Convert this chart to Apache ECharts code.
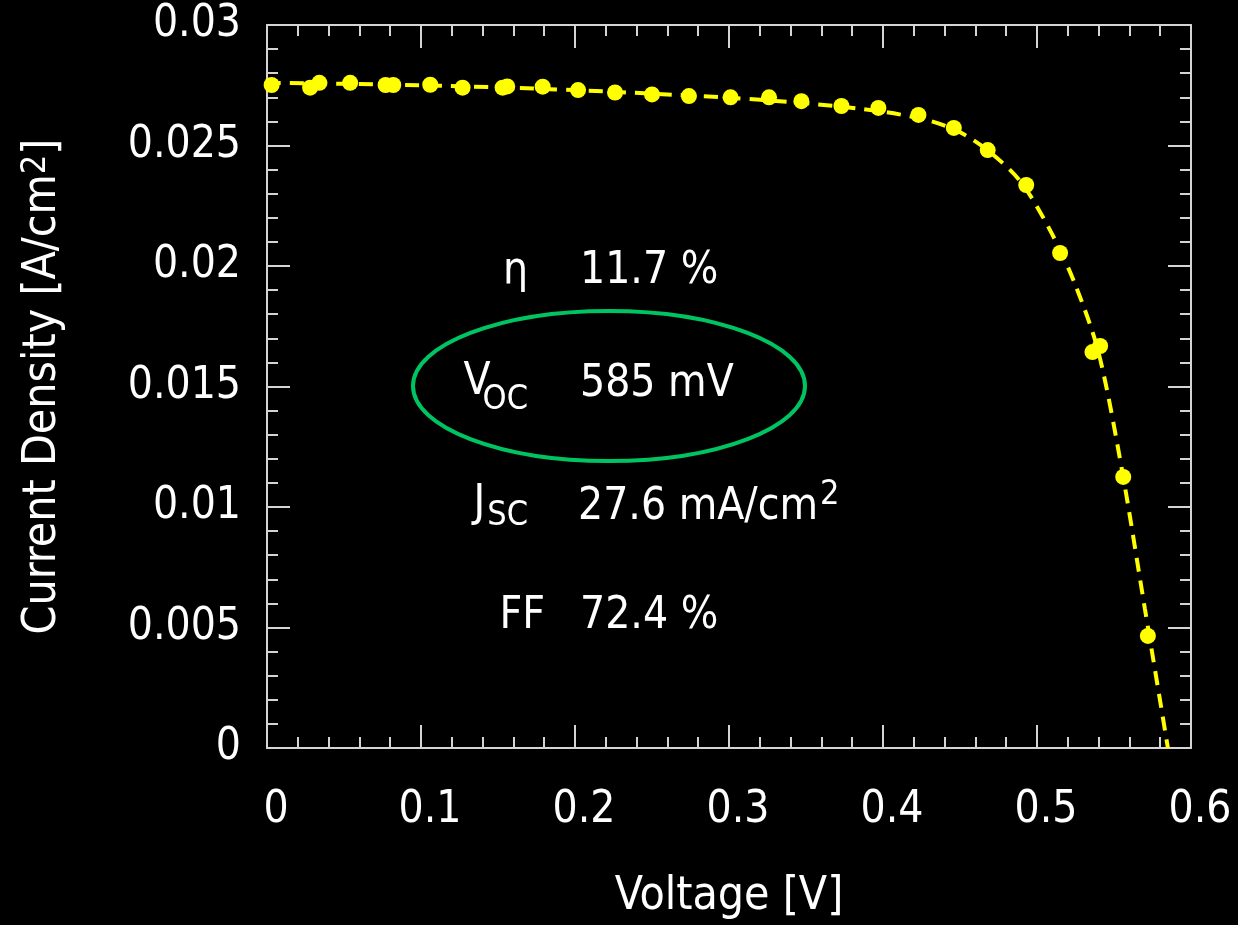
<!DOCTYPE html>
<html>
<head>
<meta charset="utf-8">
<title>J-V curve</title>
<script src="https://cdn.jsdelivr.net/npm/echarts@6/dist/echarts.min.js"></script>
<style>
  html, body { margin: 0; padding: 0; background: #000; }
  #chart { width: 1238px; height: 925px; }
</style>
</head>
<body>
<div id="chart"></div>
<script>
// Measured J-V points: voltage [V] and current density [A/cm2]
const voltage = [0.003, 0.028, 0.034, 0.054, 0.077, 0.082, 0.106, 0.127, 0.153, 0.156,
  0.179, 0.202, 0.226, 0.250, 0.274, 0.301, 0.326, 0.347, 0.373, 0.397,
  0.423, 0.446, 0.468, 0.493, 0.515, 0.536, 0.541, 0.556, 0.572];
const currentDensity = [0.02751, 0.02740, 0.02760, 0.02760, 0.02751, 0.02751, 0.02752, 0.02740, 0.02740, 0.02745,
  0.02744, 0.02730, 0.02720, 0.02712, 0.02705, 0.02700, 0.02700, 0.02684, 0.02664, 0.02656,
  0.02627, 0.02573, 0.02481, 0.02336, 0.02054, 0.01643, 0.01668, 0.01125, 0.00465];

// Fitted diode curve (dashed)
const fitVoltage = [0, 0.05, 0.1, 0.15, 0.2, 0.25, 0.3, 0.35, 0.4, 0.43,
  0.45, 0.47, 0.49, 0.51, 0.525, 0.54, 0.555, 0.57, 0.585];
const fitCurrent = [0.02760, 0.02756, 0.02750, 0.02741, 0.02730, 0.02715, 0.02698, 0.02675, 0.02640, 0.02603,
  0.02555, 0.02470, 0.02345, 0.02130, 0.01920, 0.01640, 0.01160, 0.00580, 0];

// Cell parameters
const paramNames = ['η', 'V', 'J', 'FF'];
const paramSubs = ['', 'OC', 'SC', ''];
const paramValues = ['11.7 %', '585 mV', '27.6 mA/cm', '72.4 %'];

const FONT = "'DejaVu Sans Condensed', 'DejaVu Sans', sans-serif";
const FRAME = '#d4d4d4';

const chart = echarts.init(document.getElementById('chart'));

// text width helper for placing sub/superscripts next to their base text
const measureCtx = document.createElement('canvas').getContext('2d');
function textWidth(text, size) {
  measureCtx.font = size + 'px ' + FONT;
  return measureCtx.measureText(text).width;
}

function txt(text, x, baseline, size, align) {
  return {
    type: 'text',
    z: 10,
    style: {
      text: text,
      x: x,
      y: baseline - 0.35 * size,
      fill: '#ffffff',
      font: size + 'px ' + FONT,
      align: align,
      verticalAlign: 'middle'
    }
  };
}

const subRight = 528;
const ocLeft = subRight - textWidth(paramSubs[1], 34);
const scLeft = subRight - textWidth(paramSubs[2], 34);
const jscEnd = 578 + textWidth(paramValues[2], 44);

const graphics = [
  { type: 'ellipse', z: 9, shape: { cx: 609, cy: 386, rx: 196, ry: 75 },
    style: { fill: 'none', stroke: '#00c462', lineWidth: 4 } },
  txt(paramNames[0], 528, 287, 44, 'right'),
  txt(paramValues[0], 580, 287, 44, 'left'),
  txt(paramNames[1], ocLeft + 8, 398, 44, 'right'),
  txt(paramSubs[1], subRight, 412, 34, 'right'),
  txt(paramValues[1], 580, 400, 44, 'left'),
  txt(paramNames[2], scLeft - 2, 520, 44, 'right'),
  txt(paramSubs[2], subRight, 528, 34, 'right'),
  txt(paramValues[2], 578, 523, 44, 'left'),
  txt('2', jscEnd + 2, 507, 34, 'left'),
  txt(paramNames[3], 545, 632, 44, 'right'),
  txt(paramValues[3], 580, 632, 44, 'left')
];

const frameAxis = {
  axisLine: { show: true, onZero: false, lineStyle: { color: FRAME, width: 2 } },
  axisTick: { show: true, inside: true, length: 23, lineStyle: { color: FRAME, width: 2 } },
  minorTick: { show: true, splitNumber: 5, length: 11, lineStyle: { color: FRAME, width: 2 } },
  splitLine: { show: false },
  minorSplitLine: { show: false }
};

chart.setOption({
  backgroundColor: '#000000',
  animation: false,
  grid: { left: 267, right: 47, top: 25, bottom: 177 },
  xAxis: [
    Object.assign({
      type: 'value', position: 'bottom', min: 0, max: 0.6, interval: 0.1,
      name: 'Voltage [V]', nameLocation: 'middle', nameGap: 126,
      nameTextStyle: { color: '#ffffff', fontSize: 46, fontFamily: FONT },
      axisLabel: { color: '#ffffff', fontSize: 44, fontFamily: FONT, margin: 41, padding: [0, 0, 0, 18] }
    }, frameAxis),
    Object.assign({
      type: 'value', position: 'top', min: 0, max: 0.6, interval: 0.1,
      axisLabel: { show: false }
    }, frameAxis)
  ],
  yAxis: [
    Object.assign({
      type: 'value', position: 'left', min: 0, max: 0.03, interval: 0.005,
      name: 'Current Density [A/cm{sup|2}]', nameLocation: 'middle', nameGap: 200,
      nameTextStyle: { color: '#ffffff', fontSize: 46, fontFamily: FONT,
        rich: { sup: { color: '#ffffff', fontSize: 34, fontFamily: FONT, verticalAlign: 'top', padding: [0, 0, 14, 0] } } },
      axisLabel: { color: '#ffffff', fontSize: 44, fontFamily: FONT, margin: 26 }
    }, frameAxis),
    Object.assign({
      type: 'value', position: 'right', min: 0, max: 0.03, interval: 0.005,
      axisLabel: { show: false }
    }, frameAxis)
  ],
  series: [
    {
      type: 'line',
      name: 'fit',
      data: fitVoltage.map((v, i) => [v, fitCurrent[i]]),
      smooth: 0.3,
      showSymbol: false,
      lineStyle: { color: '#ffff00', width: 4, type: [14, 9] },
      z: 2
    },
    {
      type: 'scatter',
      name: 'measured',
      data: voltage.map((v, i) => [v, currentDensity[i]]),
      symbol: 'circle',
      symbolSize: 16,
      itemStyle: { color: '#ffff00', opacity: 1 },
      z: 3
    }
  ],
  graphic: graphics
});
</script>
</body>
</html>
